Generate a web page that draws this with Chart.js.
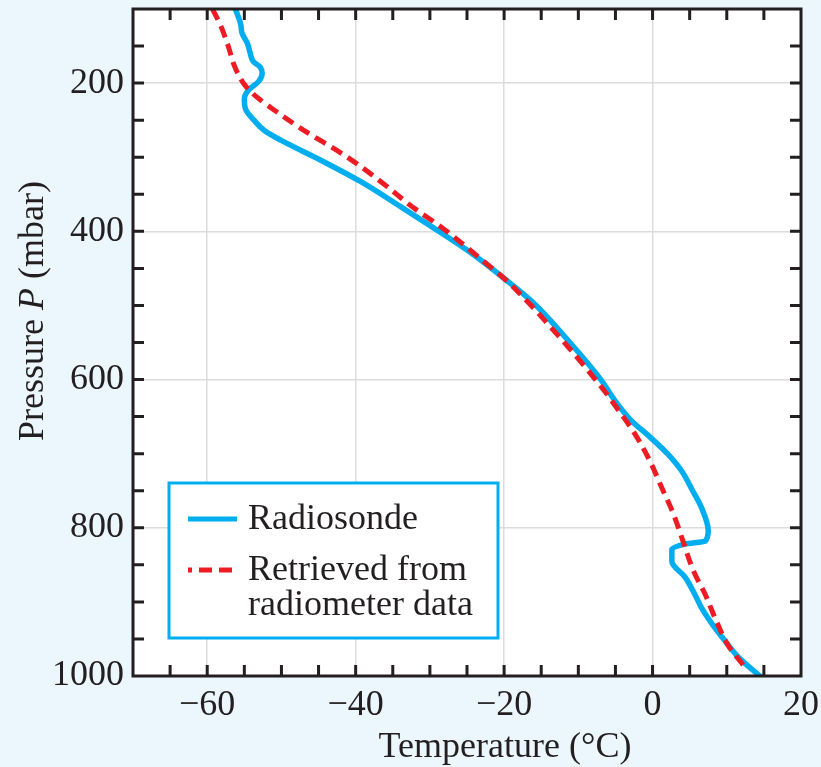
<!DOCTYPE html>
<html>
<head>
<meta charset="utf-8">
<script src="https://cdn.jsdelivr.net/npm/chart.js@4/dist/chart.umd.min.js"></script>
<style>
  html, body { margin: 0; padding: 0; background: #ebf6fd; }
  #wrap { width: 821px; height: 767px; position: relative; }
</style>
</head>
<body>
<div id="wrap"><canvas id="c" width="821" height="767"></canvas></div>
<script>
// ---- Data ----
const radiosondePressure = [100,120,133,146,160,171,178,187,198,209,221,236,250,264,277,304,333,367,396,426,466,498,547,601,628,655,678,700,723,750,773,804,818,822,829,845,867,890,908,935,953,975,1002];
const radiosondeTemp     = [-56.2,-55.5,-55.3,-54.6,-54.2,-53.8,-52.9,-52.6,-53.1,-54.4,-55.0,-54.8,-53.7,-52.3,-50.1,-44.7,-39.3,-33.9,-29.4,-24.9,-19.7,-15.9,-11.4,-6.9,-5.1,-2.9,-0.3,2.0,3.9,5.4,6.6,7.5,7.1,4.4,2.6,2.6,4.4,5.7,6.6,8.4,9.8,11.6,14.7];

const retrievedPressure = [100,120,146,180,203,219,239,261,300,333,369,394,441,468,525,610,637,673,709,745,781,818,858,890,926,959,985];
const retrievedTemp     = [-59.3,-58.3,-57.3,-56.2,-54.9,-53.3,-50.6,-47.4,-41.1,-36.6,-32.1,-28.5,-22.7,-19.5,-14.1,-6.9,-4.9,-2.4,-0.4,1.2,2.8,4.1,5.5,7.1,8.6,10.2,12.2];

const xTickLabels = [-60,-40,-20,0,20];
const yTickLabels = [200,400,600,800,1000];
const xMinorTicks = [-65,-60,-55,-50,-45,-40,-35,-30,-25,-20,-15,-10,-5,0,5,10,15];
const yMinorTicks = [150,200,250,300,350,400,450,500,550,600,650,700,750,800,850,900,950];

const seriesNames = ['Radiosonde', 'Retrieved from', 'radiometer data'];
const xTitle = 'Temperature (°C)';
const yTitleParts = ['Pressure ', 'P', ' (mbar)'];

// ---- styles ----
const BG = '#ebf6fd';
const INK = '#231f20';
const BLUE = '#00aeef';
const RED = '#ed1c24';
const FONT = '"Liberation Serif", "Times New Roman", serif';
const FS = 36;

const toPts = (xs, ys) => xs.map((t, i) => ({ x: t, y: ys[i] }));

const decor = {
  id: 'decor',
  beforeDraw(chart) {
    const { ctx, chartArea: a } = chart;
    ctx.save();
    ctx.fillStyle = BG;
    ctx.fillRect(0, 0, chart.width, chart.height);
    ctx.fillStyle = '#ffffff';
    ctx.fillRect(a.left, a.top, a.right - a.left, a.bottom - a.top);
    ctx.restore();
  },
  afterDraw(chart) {
    const { ctx, chartArea: a, scales } = chart;
    const xs = scales.x, ys = scales.y;
    ctx.save();
    // inward ticks
    ctx.strokeStyle = INK;
    ctx.lineWidth = 3;
    const L = 11;
    ctx.beginPath();
    xMinorTicks.forEach(v => {
      const px = xs.getPixelForValue(v);
      ctx.moveTo(px, a.bottom); ctx.lineTo(px, a.bottom - L);
      ctx.moveTo(px, a.top); ctx.lineTo(px, a.top + L);
    });
    yMinorTicks.forEach(v => {
      const py = ys.getPixelForValue(v);
      ctx.moveTo(a.left, py); ctx.lineTo(a.left + L, py);
      ctx.moveTo(a.right, py); ctx.lineTo(a.right - L, py);
    });
    ctx.stroke();
    // frame
    ctx.lineWidth = 3;
    ctx.strokeRect(a.left, a.top, a.right - a.left, a.bottom - a.top);

    // axis titles
    ctx.fillStyle = INK;
    ctx.font = FS + 'px ' + FONT;
    ctx.textAlign = 'center';
    ctx.textBaseline = 'alphabetic';
    ctx.fillText(xTitle, 505, 757);

    // y title with italic P
    ctx.save();
    ctx.translate(43, 311);
    ctx.rotate(-Math.PI / 2);
    const fN = FS + 'px ' + FONT, fI = 'italic ' + FS + 'px ' + FONT;
    ctx.font = fN; const w0 = ctx.measureText(yTitleParts[0]).width;
    ctx.font = fI; const w1 = ctx.measureText(yTitleParts[1]).width;
    ctx.font = fN; const w2 = ctx.measureText(yTitleParts[2]).width;
    let sx = -(w0 + w1 + w2) / 2;
    ctx.textAlign = 'left';
    ctx.font = fN; ctx.fillText(yTitleParts[0], sx, 0); sx += w0;
    ctx.font = fI; ctx.fillText(yTitleParts[1], sx, 0); sx += w1;
    ctx.font = fN; ctx.fillText(yTitleParts[2], sx, 0);
    ctx.restore();

    // legend box
    ctx.fillStyle = '#ffffff';
    ctx.fillRect(169, 483, 329, 155);
    ctx.strokeStyle = BLUE;
    ctx.lineWidth = 3;
    ctx.strokeRect(169, 483, 329, 155);
    // samples
    ctx.lineWidth = 5;
    ctx.strokeStyle = BLUE;
    ctx.beginPath(); ctx.moveTo(188, 519); ctx.lineTo(237, 519); ctx.stroke();
    ctx.strokeStyle = RED;
    ctx.setLineDash([13, 7]);
    ctx.lineDashOffset = 9;
    ctx.beginPath(); ctx.moveTo(188, 570); ctx.lineTo(237, 570); ctx.stroke();
    ctx.setLineDash([]);
    ctx.fillStyle = INK;
    ctx.font = FS + 'px ' + FONT;
    ctx.textAlign = 'left';
    ctx.fillText(seriesNames[0], 248, 529);
    ctx.fillText(seriesNames[1], 248, 580);
    ctx.fillText(seriesNames[2], 248, 615);
    ctx.restore();
  }
};

new Chart(document.getElementById('c'), {
  type: 'line',
  data: {
    datasets: [
      {
        label: 'Retrieved from radiometer data',
        data: toPts(retrievedTemp, retrievedPressure),
        borderColor: RED,
        borderWidth: 5,
        borderDash: [12, 7],
        pointRadius: 0,
        cubicInterpolationMode: 'monotone',
        fill: false
      },
      {
        label: 'Radiosonde',
        data: toPts(radiosondeTemp, radiosondePressure),
        borderColor: BLUE,
        borderWidth: 5.5,
        pointRadius: 0,
        cubicInterpolationMode: 'monotone',
        fill: false
      }
    ]
  },
  options: {
    indexAxis: 'y',
    responsive: false,
    animation: false,
    devicePixelRatio: 1,
    layout: { padding: { top: 9, right: 20, left: 0, bottom: 0 } },
    plugins: { legend: { display: false }, tooltip: { enabled: false } },
    scales: {
      x: {
        type: 'linear',
        min: -70, max: 20,
        afterFit(s) { s.height = 91; s.paddingLeft = 0; s.paddingRight = 0; },
        afterBuildTicks(s) { s.ticks = xTickLabels.map(v => ({ value: v })); },
        ticks: {
          autoSkip: false, maxRotation: 0, padding: 8,
          color: INK,
          font: { family: FONT, size: FS },
          callback: v => (v < 0 ? '\u2212' + Math.abs(v) : String(v))
        },
        grid: { color: '#dcdcdc', lineWidth: 1.5, drawTicks: false },
        border: { display: false },
        title: { display: false }
      },
      y: {
        type: 'linear',
        min: 100, max: 1000,
        reverse: true,
        afterFit(s) { s.width = 133; s.paddingTop = 0; s.paddingBottom = 0; },
        afterBuildTicks(s) { s.ticks = yTickLabels.map(v => ({ value: v })); },
        ticks: {
          autoSkip: false, padding: 9,
          color: INK,
          font: { family: FONT, size: FS },
          callback: v => String(v)
        },
        grid: { color: '#dcdcdc', lineWidth: 1.5, drawTicks: false },
        border: { display: false },
        title: { display: false }
      }
    }
  },
  plugins: [decor]
});
</script>
</body>
</html>
